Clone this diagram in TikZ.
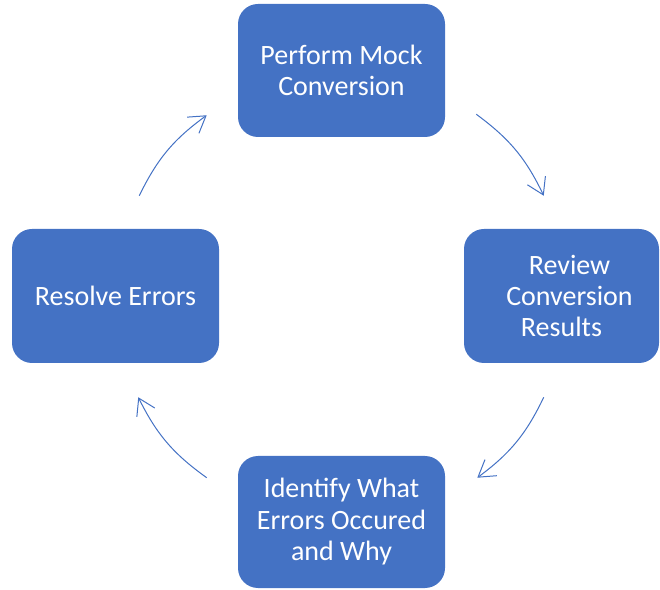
\documentclass[tikz,border=0pt]{standalone}
\usepackage{fontspec}
\setmainfont{Carlito}
\usetikzlibrary{arrows.meta, positioning}
\definecolor{stepblue}{HTML}{4472C4}

\begin{document}
\begin{tikzpicture}[x=0.75pt, y=0.75pt,
		block/.style = {fill=stepblue, rounded corners=15pt, text=white, align=center, inner sep=0pt,
			font=\fontsize{21}{23.6}\selectfont, minimum width=155.25pt, minimum height=100pt},
		flow/.style = {draw=stepblue, line width=0.75pt, -{Straight Barb[length=12pt, width=15pt]}, bend left=14}]
				\useasboundingbox (0,0) rectangle (660,589);
				\node[block, minimum height=99.75pt] (mock) at (341.5,518.5) {Perform Mock\\Conversion};
				\node[block, minimum width=146.25pt, minimum height=100.5pt, text width=146.25pt, align=flush center] (review) at (561.5,293)
					{\leftskip=12pt plus 1fil Review\\Conversion\\Results};
				\node[block, minimum height=99pt] (identify) at (341.5,67) {Identify What\\Errors Occured\\and Why};
				\node[block, minimum height=100.5pt] (resolve) at (115.5,293) {Resolve Errors};
				\draw[flow] ([shift={(31,23)}]mock.south east) to ([shift={(80,33)}]review.north west);
				\draw[flow] ([shift={(80,-34)}]review.south west) to ([shift={(32,-22)}]identify.north east);
				\draw[flow] ([shift={(-31,-22)}]identify.north west) to ([shift={(-81,-34)}]resolve.south east);
				\draw[flow] ([shift={(-80,33)}]resolve.north east) to ([shift={(-31,22)}]mock.south west);
			\end{tikzpicture}
\end{document}
